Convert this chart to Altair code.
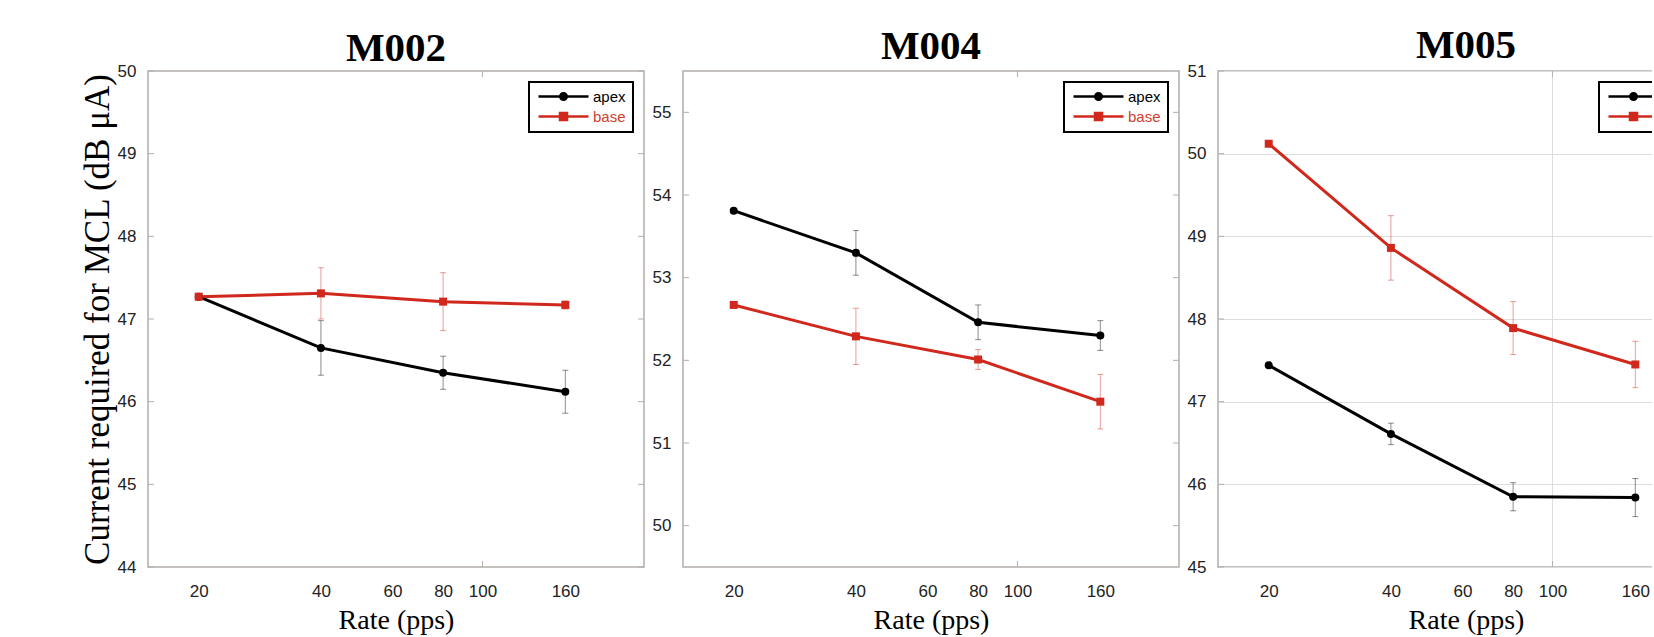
import altair as alt
import pandas as pd

# ---------------- data ----------------
panel_names = ["M002", "M004", "M005"]
rates = [20, 40, 80, 160]
series_names = ["apex", "base"]
series_colors = ["#000000", "#d0281c"]

m002_apex = [47.27, 46.65, 46.35, 46.12]
m002_apex_err = [0.0, 0.33, 0.20, 0.26]
m002_base = [47.27, 47.31, 47.21, 47.17]
m002_base_err = [0.0, 0.31, 0.35, 0.05]

m004_apex = [53.81, 53.30, 52.46, 52.30]
m004_apex_err = [0.0, 0.27, 0.21, 0.18]
m004_base = [52.67, 52.29, 52.01, 51.50]
m004_base_err = [0.03, 0.34, 0.12, 0.33]

m005_apex = [47.44, 46.61, 45.85, 45.84]
m005_apex_err = [0.0, 0.13, 0.17, 0.23]
m005_base = [50.12, 48.86, 47.89, 47.45]
m005_base_err = [0.0, 0.39, 0.32, 0.28]

y_domain_m002 = [44, 50]
y_ticks_m002 = [44, 45, 46, 47, 48, 49, 50]
y_domain_m004 = [49.5, 55.5]
y_ticks_m004 = [50, 51, 52, 53, 54, 55]
y_domain_m005 = [45, 51]
y_ticks_m005 = [45, 46, 47, 48, 49, 50, 51]

x_domain = [15, 250]
x_tick_labels = [20, 40, 60, 80, 100, 160]
x_major = [100]

y_title = "Current required for MCL (dB \u03bcA)"
x_title = "Rate (pps)"

legend_path_apex = "M-1,0H9M4.65,0A0.65,0.65 0 1,1 3.35,0A0.65,0.65 0 1,1 4.65,0Z"
legend_path_base = "M-1,0H9M3.3,-0.7H4.7V0.7H3.3Z"

BORDER = "#b3adab"
W = 496
H = 496


def make_panel(name, apex, apex_err, base_v, base_err, y_domain, y_ticks, first, grid, title_dy):
    rows = []
    for s, vals, errs in (("apex", apex, apex_err), ("base", base_v, base_err)):
        for r, v, e in zip(rates, vals, errs):
            rows.append({"rate": r, "value": v, "lo": v - e, "hi": v + e,
                         "series": s, "grp": s + "_line"})
    df = pd.DataFrame(rows)

    xs = alt.Scale(type="log", domain=x_domain, nice=False)
    ys = alt.Scale(domain=y_domain, nice=False, zero=False)
    x_axis = alt.Axis(values=x_tick_labels, format="d", title=x_title, ticks=False,
                      domain=False, grid=False, labelPadding=16, labelOverlap=False,
                      labelFlush=False, titlePadding=7)
    y_axis = alt.Axis(values=y_ticks, ticks=False, domain=False, grid=grid,
                      gridColor="#dddddd", labelPadding=12, format="d", titlePadding=2,
                      title=y_title if first else None)

    X = alt.X("rate:Q", scale=xs, axis=x_axis)
    Y = alt.Y("value:Q", scale=ys, axis=y_axis)
    color = alt.Color("grp:N", scale=alt.Scale(domain=["apex_line", "base_line"],
                                               range=series_colors), legend=None)
    base = alt.Chart(df)
    layers = []

    if grid:
        vgrid = alt.Chart(pd.DataFrame({"rate": x_major})).mark_rule(
            color="#dddddd", strokeWidth=1).encode(x=X)
        layers.append(vgrid)

    ytick_df = pd.DataFrame({"v": y_ticks})
    yt = alt.Y("v:Q", scale=ys, axis=y_axis)
    layers.append(alt.Chart(ytick_df).mark_rule(color=BORDER, strokeWidth=1).encode(
        y=yt, x=alt.value(W - 6), x2=alt.value(W)))
    layers.append(alt.Chart(ytick_df).mark_rule(color=BORDER, strokeWidth=1).encode(
        y=yt, x=alt.value(0), x2=alt.value(6)))
    xt_df = pd.DataFrame({"rate": x_major})
    layers.append(alt.Chart(xt_df).mark_rule(color=BORDER, strokeWidth=1).encode(
        x=X, y=alt.value(0), y2=alt.value(6)))
    layers.append(alt.Chart(xt_df).mark_rule(color=BORDER, strokeWidth=1).encode(
        x=X, y=alt.value(H - 6), y2=alt.value(H)))

    # error bars
    layers.append(base.mark_rule(strokeWidth=1, opacity=0.45).encode(
        x=X, y=alt.Y("lo:Q", scale=ys, axis=y_axis), y2="hi:Q", color=color))
    layers.append(base.transform_fold(["lo", "hi"], as_=["end", "cap"]).mark_tick(
        orient="horizontal", size=6, thickness=1, opacity=0.45).encode(
        x=X, y=alt.Y("cap:Q", scale=ys, axis=y_axis), color=color))

    # lines
    layers.append(base.mark_line(strokeWidth=3).encode(x=X, y=Y, color=color))
    # markers
    layers.append(base.transform_filter("datum.series == 'apex'").mark_circle(
        size=64, opacity=1, color=series_colors[0]).encode(x=X, y=Y))
    layers.append(base.transform_filter("datum.series == 'base'").mark_square(
        size=64, opacity=1, color=series_colors[1]).encode(x=X, y=Y))

    # legend-only layer (invisible marks, legend drawn by the library)
    leg = alt.Legend(orient="top-right", offset=11, title=None, strokeColor="black",
                     fillColor="white", padding=7, rowPadding=3, symbolSize=100,
                     symbolStrokeWidth=2.5, symbolOpacity=1, labelOffset=42,
                     labelFontSize=15, labelFont="Liberation Sans",
                     labelColor={"expr": "datum.value == 'base' ? '#d0402c' : '#000000'"})
    layers.append(base.mark_point(filled=True, opacity=0, strokeWidth=2.5).encode(
        x=X, y=Y,
        fill=alt.Fill("series:N", scale=alt.Scale(domain=series_names, range=series_colors), legend=leg),
        stroke=alt.Stroke("series:N", scale=alt.Scale(domain=series_names, range=series_colors), legend=leg),
        shape=alt.Shape("series:N", scale=alt.Scale(domain=series_names,
                                                     range=[legend_path_apex, legend_path_base]),
                        legend=leg),
    ))

    return alt.layer(*layers).properties(
        width=W, height=H, title=alt.Title(name, dy=title_dy))


p1 = make_panel("M002", m002_apex, m002_apex_err, m002_base, m002_base_err,
                y_domain_m002, y_ticks_m002, True, False, 0)
p2 = make_panel("M004", m004_apex, m004_apex_err, m004_base, m004_base_err,
                y_domain_m004, y_ticks_m004, False, False, -11)
p3 = make_panel("M005", m005_apex, m005_apex_err, m005_base, m005_base_err,
                y_domain_m005, y_ticks_m005, False, True, -3)

chart = alt.hconcat(p1, p2, p3, spacing=5).resolve_scale(
    x="independent", y="independent", color="independent",
    fill="independent", stroke="independent", shape="independent"
).resolve_legend(
    fill="independent", stroke="independent", shape="independent"
).configure_view(
    stroke=BORDER, strokeWidth=1.5
).configure_axis(
    labelFont="Liberation Sans", labelFontSize=17, labelColor="#222222",
    titleFont="Liberation Serif", titleFontWeight="normal", titleColor="#000000"
).configure_axisX(
    titleFontSize=28
).configure_axisY(
    titleFontSize=35
).configure_title(
    font="Liberation Serif", fontSize=41, fontWeight="bold", color="#000000",
    anchor="middle", offset=-8, frame="group"
).configure_legend(
    strokeWidth=2
).properties(
    padding={"left": 79, "top": 24, "right": -64, "bottom": 0},
    background="white"
)

chart.save("out.html", embed_options={"renderer": "svg", "actions": False})
